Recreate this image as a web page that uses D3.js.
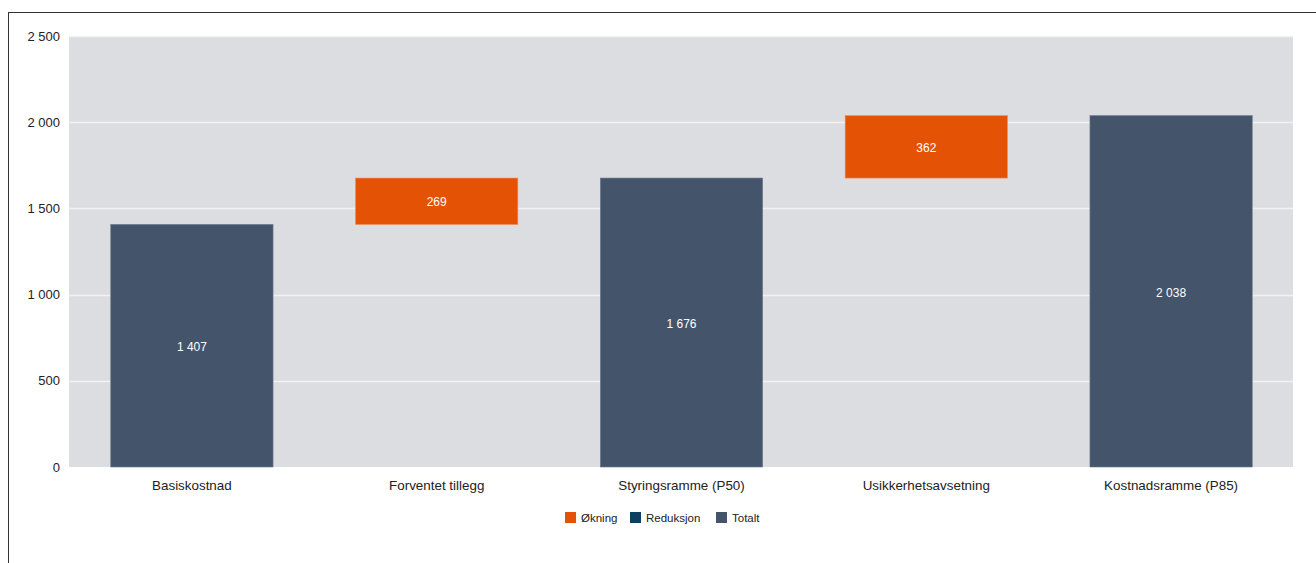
<!DOCTYPE html>
<html><head><meta charset="utf-8">
<script src="https://cdn.jsdelivr.net/npm/d3@7"></script>
<style>
html,body{margin:0;padding:0;background:#fff;}
svg{display:block;font-family:"Liberation Sans",Arial,sans-serif;}
</style></head>
<body><svg id="c" width="1316" height="563"></svg>
<script>
const categories = ["Basiskostnad","Forventet tillegg","Styringsramme (P50)","Usikkerhetsavsetning","Kostnadsramme (P85)"];
const values = [1407, 269, 1676, 362, 2038];
const kinds = ["total","increase","total","increase","total"];
const yTicks = [0, 500, 1000, 1500, 2000, 2500];
const legendLabels = ["Økning","Reduksjon","Totalt"];
const legendKinds = ["increase","decrease","total"];

const colors = {increase:"#e35205", decrease:"#0d3f5f", total:"#44546a"};
const svg = d3.select("#c");
const m = {l:69, r:1293, t:36, b:467};

// frame lines
svg.append("line").attr("x1",8.5).attr("x2",8.5).attr("y1",12).attr("y2",563).attr("stroke","#333").attr("stroke-width",1);
svg.append("line").attr("x1",8).attr("x2",1316).attr("y1",12.5).attr("y2",12.5).attr("stroke","#333").attr("stroke-width",1);

const x = d3.scaleBand().domain(categories).range([m.l, m.r]).paddingInner(0.333).paddingOuter(0.1665);
const y = d3.scaleLinear().domain([0, 2500]).range([m.b, m.t]);

svg.append("rect").attr("x",m.l).attr("y",m.t).attr("width",m.r-m.l).attr("height",m.b-m.t).attr("fill","#dcdde0");

const fmt = v => d3.format(",")(v).replace(/,/g, " ");

svg.append("g").selectAll("line").data(yTicks.filter(t=>t>0)).join("line")
  .attr("x1",m.l).attr("x2",m.r).attr("y1",d=>Math.round(y(d))+0.5).attr("y2",d=>Math.round(y(d))+0.5)
  .attr("stroke","#f2f2f3").attr("stroke-width",1.5);

const yAxis = d3.axisLeft(y).tickValues(yTicks).tickSize(0).tickPadding(9).tickFormat(fmt);
const ga = svg.append("g").attr("transform",`translate(${m.l},0)`).call(yAxis);
ga.select(".domain").remove();
ga.selectAll("text").attr("font-size",13).attr("fill","#222").attr("font-family","Liberation Sans, Arial, sans-serif");

// compute waterfall
let run = 0;
const bars = categories.map((c,i)=>{
  let lo, hi;
  if (kinds[i]==="total"){ lo=0; hi=values[i]; run=values[i]; }
  else { lo=run; hi=run+values[i]; run=hi; }
  return {c, lo, hi, v:values[i], k:kinds[i]};
});

svg.append("g").selectAll("rect").data(bars).join("rect")
  .attr("x",d=>x(d.c)+1).attr("width",x.bandwidth()-1)
  .attr("y",d=>y(d.hi)).attr("height",d=>y(d.lo)-y(d.hi))
  .attr("fill",d=>colors[d.k]).attr("stroke",d=>d.k==="total"?"#6a7890":"#ef8a55").attr("stroke-width",0.6);

svg.append("g").selectAll("text").data(bars).join("text")
  .attr("x",d=>x(d.c)+x.bandwidth()/2+0.5).attr("y",d=>(y(d.hi)+y(d.lo))/2+1)
  .attr("dy","0.35em").attr("text-anchor","middle").attr("font-size",12).attr("fill","#fff")
  .text(d=>fmt(d.v));

const xAxis = d3.axisBottom(x).tickSize(0).tickPadding(13);
const gx = svg.append("g").attr("transform",`translate(0.5,${m.b})`).call(xAxis);
gx.select(".domain").remove();
gx.selectAll("text").attr("font-size",13.4).attr("fill","#222").attr("font-family","Liberation Sans, Arial, sans-serif");

// legend
const lg = svg.append("g");
const lx = [565, 630, 716];
legendLabels.forEach((l,i)=>{
  lg.append("rect").attr("x",lx[i]).attr("y",512).attr("width",11).attr("height",11).attr("fill",colors[legendKinds[i]]);
  lg.append("text").attr("x",lx[i]+16).attr("y",518).attr("dy","0.35em").attr("font-size",11.5).attr("fill","#222").text(l);
});
</script></body></html>
